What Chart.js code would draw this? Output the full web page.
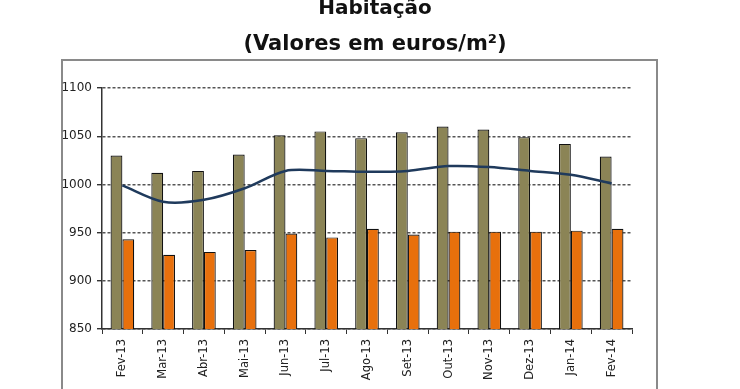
<!DOCTYPE html>
<html><head><meta charset="utf-8">
<script src="https://cdn.jsdelivr.net/npm/chart.js@4/dist/chart.umd.min.js"></script>
<style>html,body{margin:0;padding:0;background:#fff;}#wrap{width:740px;height:389px;}</style>
</head><body><div id="wrap"><canvas id="c" width="740" height="389"></canvas></div>
<script>
const categories = ["Fev-13","Mar-13","Abr-13","Mai-13","Jun-13","Jul-13","Ago-13","Set-13","Out-13","Nov-13","Dez-13","Jan-14","Fev-14"];
const seriesOlive = [1030,1012,1014,1031,1051,1055,1048,1054,1060,1057,1049,1042,1029];
const seriesOrange = [943,927,930,932,949,945,954,948,951,951,951,952,954];
const seriesLine = [999,982,984,996,1014,1014,1013,1014,1019,1018,1014,1010,1001];
const yTicks = [850,900,950,1000,1050,1100];
const titleLines = ["Habitação","(Valores em euros/m²)"];

const framePlugin = {
  id:'frame',
  beforeDraw(chart){
    const ctx=chart.ctx;
    ctx.save();
    ctx.fillStyle='#fff';ctx.fillRect(0,0,chart.width,chart.height);
    ctx.strokeStyle='#8a8a8a';ctx.lineWidth=2;
    ctx.strokeRect(62,60,595,400);
    ctx.fillStyle='#111';ctx.textAlign='center';ctx.textBaseline='alphabetic';
    ctx.font='bold 20px "DejaVu Sans"';
    ctx.fillText(titleLines[0],375,14);
    ctx.font='bold 21px "DejaVu Sans"';
    ctx.fillText(titleLines[1],375,50);
    ctx.restore();
  }
};

new Chart(document.getElementById('c'),{
  type:'bar',
  data:{labels:categories,datasets:[
    {type:'line',data:seriesLine,borderColor:'#1f3a5c',borderWidth:2.5,pointRadius:0,tension:0.3,fill:false,order:0},
    {data:seriesOlive,backgroundColor:'#8b8456',borderColor:'#111',borderWidth:1.2,borderSkipped:false,categoryPercentage:0.58,barPercentage:1.0,order:1},
    {data:seriesOrange,backgroundColor:'#e8700c',borderColor:'#111',borderWidth:1.2,borderSkipped:false,categoryPercentage:0.58,barPercentage:1.0,order:1}
  ]},
  options:{
    responsive:false,animation:false,
    layout:{padding:{left:0,right:108,top:88,bottom:0}},
    plugins:{legend:{display:false},tooltip:{enabled:false},title:{display:false}},
    scales:{
      x:{
        offset:true,
        grid:{offset:true,drawOnChartArea:false,drawTicks:true,tickLength:5,color:'#333',lineWidth:1},
        border:{display:true,color:'#333',width:1.5},
        ticks:{minRotation:90,maxRotation:90,autoSkip:false,padding:5,color:'#222',font:{family:'"DejaVu Sans"',size:11.5}},
        afterFit(s){s.height=60;}
      },
      y:{
        min:850,max:1100,
        afterBuildTicks(s){s.ticks=yTicks.map(v=>({value:v}));},
        grid:{color:'#555',lineWidth:1.4,tickColor:'#333',drawTicks:true,tickLength:5},
        border:{display:true,color:'#333',width:1.5,dash:[3,2]},
        ticks:{padding:5,color:'#222',font:{family:'"DejaVu Sans"',size:12},callback:(v)=>String(v)},
        afterFit(s){s.width=102;}
      }
    }
  },
  plugins:[framePlugin]
});
</script></body></html>
